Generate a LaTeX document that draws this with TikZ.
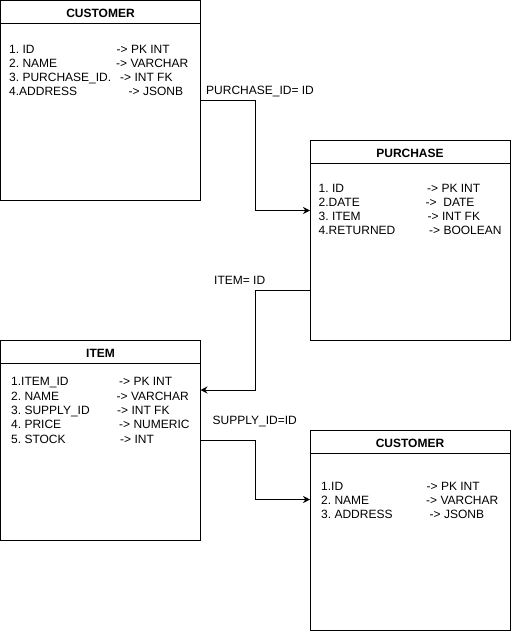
\documentclass[tikz,border=0pt]{standalone}
\usepackage{fontspec}
\setmainfont{Liberation Sans}
\usetikzlibrary{arrows.meta,calc}
\frenchspacing
\begin{document}
\begin{tikzpicture}[x=1pt,y=-1pt,
  tbl/.style={draw,line width=1pt,minimum width=200pt,minimum height=200pt,anchor=north west,inner sep=0pt,outer sep=0pt},
  ttl/.style={font=\fontsize{12}{14}\selectfont\bfseries,anchor=base,inner sep=0pt},
  fld/.style={font=\fontsize{12}{14}\selectfont,anchor=base west,inner sep=0pt},
  lbl/.style={font=\fontsize{12}{14}\selectfont,anchor=base west,inner sep=0pt},
  hline/.style={line width=1pt},
  conn/.style={line width=1pt,-{Stealth[length=7pt,width=7pt]}}]
\useasboundingbox (0,0) rectangle (512,632);

% tables
\node[tbl] (c1) at (0.5,0.5) {};
\node[tbl] (p) at (310,140.5) {};
\node[tbl] (i) at (0.5,340.5) {};
\node[tbl] (c2) at (310,430.5) {};

% header lines
\foreach \t in {c1,p,i,c2}{
  \draw[hline] ($(\t.north west)+(0,22.5)$) -- ($(\t.north east)+(0,22.5)$);
}

% titles
\node[ttl] (c1t) at ($(c1.north)+(0,16.5)$) {CUSTOMER};
\node[ttl] (pt) at ($(p.north)+(0,16.5)$) {PURCHASE};
\node[ttl] (it) at ($(i.north)+(0,16.5)$) {ITEM};
\node[ttl] (c2t) at ($(c2.north)+(0,16.5)$) {CUSTOMER};

% CUSTOMER rows
\node[fld] (c1f1) at (9,53.3) {1. ID};
\node[fld] (c1f2) at (9,67.5) {2. NAME};
\node[fld] (c1f3) at (9,81.7) {3. PURCHASE\_ID.};
\node[fld] (c1f4) at (9,95.9) {4.ADDRESS};
\node[fld] (c1y1) at (116.5,53.3) {-> PK INT};
\node[fld] (c1y2) at (116,67.5) {-> VARCHAR};
\node[fld] (c1y3) at (120,81.7) {-> INT FK};
\node[fld] (c1y4) at (128.5,95.9) {-> JSONB};

% PURCHASE rows
\node[fld] (pf1) at (318.5,192.5) {1. ID};
\node[fld] (pf2) at (318.5,206.5) {2.DATE};
\node[fld] (pf3) at (318.5,220.5) {3. ITEM};
\node[fld] (pf4) at (318.5,234.3) {4.RETURNED};
\node[fld] (py1) at (427,192.5) {-> PK INT};
\node[fld] (py2) at (425.5,206.5) {->\ \ DATE};
\node[fld] (py3) at (427.5,220.5) {-> INT FK};
\node[fld] (py4) at (429,234.3) {-> BOOLEAN};

% ITEM rows
\node[fld] (if1) at (11,385.7) {1.ITEM\_ID};
\node[fld] (if2) at (11,400) {2. NAME};
\node[fld] (if3) at (11,414.3) {3. SUPPLY\_ID};
\node[fld] (if4) at (11,428.7) {4. PRICE};
\node[fld] (if5) at (11,443) {5. STOCK};
\node[fld] (iy1) at (119,385.7) {-> PK INT};
\node[fld] (iy2) at (116.5,400) {-> VARCHAR};
\node[fld] (iy3) at (117,414.3) {-> INT FK};
\node[fld] (iy4) at (119,428.7) {-> NUMERIC};
\node[fld] (iy5) at (120,443) {-> INT};

% second CUSTOMER rows
\node[fld] (c2f1) at (321,490.5) {1.ID};
\node[fld] (c2f2) at (321,504.3) {2. NAME};
\node[fld] (c2f3) at (321,518.1) {3. ADDRESS};
\node[fld] (c2y1) at (426.5,490.5) {-> PK INT};
\node[fld] (c2y2) at (426,504.3) {-> VARCHAR};
\node[fld] (c2y3) at (429.5,518.1) {-> JSONB};

% connectors
\draw[conn] (c1.east) -- ++(55,0) |- ($(p.west)+(0,-30)$);
\draw[conn] ($(p.west)+(0,49.5)$) -- ++(-54.5,0) |- ($(i.east)+(0,-50.5)$);
\draw[conn] (i.east) -- ++(55,0) |- ($(c2.west)+(0,-31)$);

% labels
\node[lbl] (l1) at (206,94) {PURCHASE\_ID= ID};
\node[lbl] (l2) at (214,284) {ITEM= ID};
\node[lbl] (l3) at (212.5,424) {SUPPLY\_ID=ID};
\end{tikzpicture}
\end{document}
